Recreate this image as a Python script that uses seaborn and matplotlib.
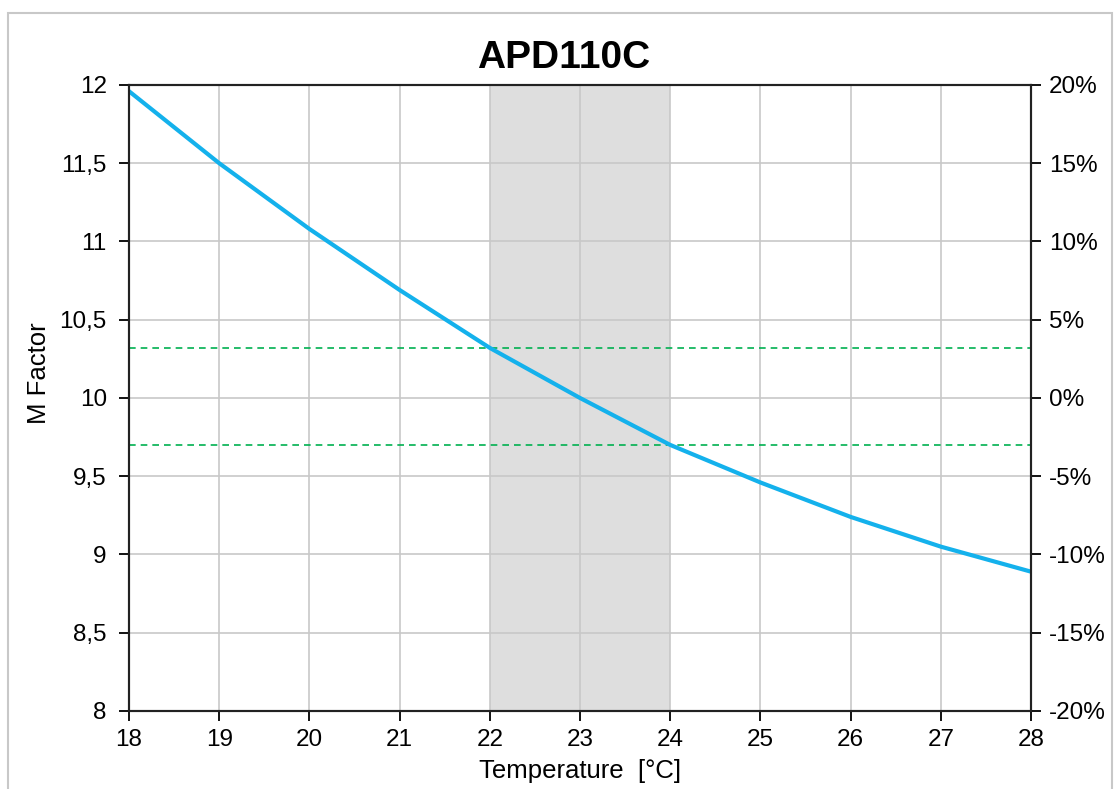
import matplotlib
matplotlib.use("Agg")
import matplotlib.pyplot as plt
import seaborn as sns
import pandas as pd
from matplotlib.patches import Rectangle

# values
temperature = [18, 19, 20, 21, 22, 23, 24, 25, 26, 27, 28]
m_factor = [11.96, 11.50, 11.08, 10.69, 10.32, 10.00, 9.70, 9.46, 9.24, 9.05, 8.89]
band_limits = [10.32, 9.70]
shaded_range = [22, 24]
left_ticks = [8, 8.5, 9, 9.5, 10, 10.5, 11, 11.5, 12]
left_labels = ["8", "8,5", "9", "9,5", "10", "10,5", "11", "11,5", "12"]
right_ticks = [-20, -15, -10, -5, 0, 5, 10, 15, 20]
right_labels = ["-20%", "-15%", "-10%", "-5%", "0%", "5%", "10%", "15%", "20%"]
x_ticks = list(range(18, 29))

sns.set_style("white")
plt.rcParams["font.family"] = ["Liberation Sans", "DejaVu Sans"]
plt.rcParams["text.color"] = "black"
plt.rcParams["axes.labelcolor"] = "black"
plt.rcParams["xtick.labelcolor"] = "black"
plt.rcParams["ytick.labelcolor"] = "black"

df = pd.DataFrame({"Temperature": temperature, "M": m_factor})

fig = plt.figure(figsize=(11.15, 7.89), dpi=100)
ax = fig.add_axes([0.1157, 0.0989, 0.8090, 0.7934])

grid_color = "#c8c8c8"
ax.axvspan(shaded_range[0], shaded_range[1], color="#dedede", zorder=0.2, lw=0)
ax.set_axisbelow(True)
ax.grid(True, color=grid_color, lw=1.2)

for lim in band_limits:
    ax.axhline(lim, color="#00b050", lw=1.2, ls=(0, (4, 3)), zorder=2)

sns.lineplot(data=df, x="Temperature", y="M", ax=ax, color="#14b1ec", lw=3, zorder=3)

ax.set_xlim(18, 28)
ax.set_ylim(8, 12)
ax.set_xticks(x_ticks)
ax.set_xticklabels([str(t) for t in x_ticks])
ax.set_yticks(left_ticks)
ax.set_yticklabels(left_labels)
ax.tick_params(axis="x", direction="out", length=7, width=1.3, color="black",
               labelsize=17.5, pad=6, bottom=True)
ax.tick_params(axis="y", direction="out", length=7, width=1.3, color="black",
               labelsize=17.5, pad=9, left=True)
ax.set_xlabel("Temperature  [°C]", fontsize=18.5, labelpad=6)
ax.set_ylabel("M Factor", fontsize=18.5)
ax.yaxis.set_label_coords(-0.087, 0.54)

for s in ax.spines.values():
    s.set_color("#222222")
    s.set_linewidth(1.5)

ax2 = ax.twinx()
ax2.set_ylim(-20, 20)
ax2.set_yticks(right_ticks)
ax2.set_yticklabels(right_labels)
ax2.tick_params(axis="y", direction="out", length=7, width=1.3, color="black",
                labelsize=17.5, pad=6, right=True)
for s in ax2.spines.values():
    s.set_color("#222222")
    s.set_linewidth(1.5)

ax.set_title("APD110C", fontsize=28, fontweight="bold", pad=12, color="black", x=0.482)

fig.patches.append(Rectangle((8 / 1115, -0.02), 1104 / 1115, 1.02 - 13 / 789,
                             transform=fig.transFigure, fill=False,
                             edgecolor="#c8c8c8", lw=1.5, zorder=0))

fig.savefig("out.png", dpi=100)
